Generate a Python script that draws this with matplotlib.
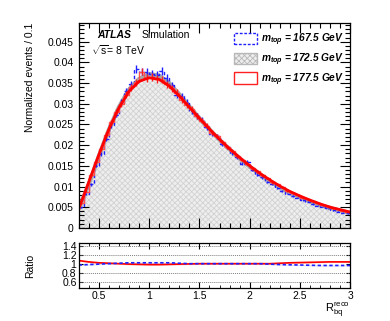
import numpy as np
import matplotlib
matplotlib.use("Agg")
import matplotlib.pyplot as plt
from matplotlib.patches import Patch
from matplotlib.ticker import MultipleLocator, FixedLocator

plt.rcParams['font.family'] = ['Liberation Sans', 'DejaVu Sans']
plt.rcParams['mathtext.fontset'] = 'custom'
plt.rcParams['mathtext.rm'] = 'Liberation Sans'
plt.rcParams['mathtext.it'] = 'Liberation Sans:italic:bold'
plt.rcParams['mathtext.bf'] = 'Liberation Sans:bold'
plt.rcParams['hatch.linewidth'] = 0.6

# ---------------- data ----------------
bin_edges = np.round(np.arange(0.30, 3.0001, 0.05), 3)

h172 = [0.0058, 0.0090, 0.0122, 0.0156, 0.0190, 0.0222, 0.0252, 0.0280, 0.0304, 0.0325,
        0.0342, 0.0355, 0.0364, 0.0369, 0.0370, 0.0368, 0.0362, 0.0353, 0.0342, 0.0329,
        0.0315, 0.0300, 0.0286, 0.0272, 0.0258, 0.0245, 0.0232, 0.0219, 0.0207, 0.0195,
        0.0184, 0.0173, 0.0162, 0.0152, 0.0143, 0.0134, 0.0125, 0.0117, 0.0109, 0.0102,
        0.0095, 0.0088, 0.0082, 0.0076, 0.0071, 0.0066, 0.0061, 0.0057, 0.0053, 0.0049,
        0.0046, 0.0043, 0.0040, 0.0037]

h167 = [0.0050, 0.0082, 0.0105, 0.0150, 0.0178, 0.0215, 0.0248, 0.0274, 0.0303, 0.0330,
        0.0347, 0.0383, 0.0378, 0.0376, 0.0373, 0.0370, 0.0380, 0.0362, 0.0345, 0.0322,
        0.0318, 0.0303, 0.0283, 0.0270, 0.0262, 0.0243, 0.0228, 0.0221, 0.0203, 0.0196,
        0.0180, 0.0172, 0.0155, 0.0160, 0.0140, 0.0129, 0.0122, 0.0111, 0.0106, 0.0096,
        0.0089, 0.0083, 0.0077, 0.0073, 0.0067, 0.0063, 0.0058, 0.0054, 0.0051, 0.0047,
        0.0043, 0.0039, 0.0037, 0.0035]

h177 = [0.0060, 0.0088, 0.0128, 0.0160, 0.0190, 0.0225, 0.0255, 0.0280, 0.0300, 0.0322,
        0.0340, 0.0352, 0.0378, 0.0362, 0.0365, 0.0360, 0.0358, 0.0347, 0.0338, 0.0327,
        0.0310, 0.0298, 0.0287, 0.0270, 0.0259, 0.0247, 0.0230, 0.0222, 0.0208, 0.0196,
        0.0187, 0.0173, 0.0165, 0.0155, 0.0144, 0.0137, 0.0127, 0.0121, 0.0110, 0.0106,
        0.0098, 0.0090, 0.0085, 0.0080, 0.0073, 0.0069, 0.0064, 0.0059, 0.0056, 0.0052,
        0.0048, 0.0045, 0.0042, 0.0039]

fit_x = [0.3, 0.4, 0.5, 0.6, 0.7, 0.8, 0.9, 1.0, 1.1, 1.2, 1.3, 1.4, 1.5, 1.6, 1.7, 1.8,
         1.9, 2.0, 2.1, 2.2, 2.3, 2.4, 2.5, 2.6, 2.7, 2.8, 2.9, 3.0]
fit172 = [0.0045, 0.0105, 0.0173, 0.0237, 0.0292, 0.0334, 0.0360, 0.0372, 0.0368, 0.0350,
          0.0323, 0.0294, 0.0265, 0.0238, 0.0213, 0.0190, 0.0168, 0.0148, 0.0130, 0.0113,
          0.0098, 0.0085, 0.0074, 0.0064, 0.0055, 0.0048, 0.0042, 0.0036]
fit177 = [0.0045, 0.0110, 0.0176, 0.0238, 0.0290, 0.0330, 0.0354, 0.0363, 0.0359, 0.0343,
          0.0319, 0.0292, 0.0265, 0.0239, 0.0214, 0.0191, 0.0170, 0.0150, 0.0132, 0.0116,
          0.0101, 0.0088, 0.0077, 0.0067, 0.0058, 0.0050, 0.0044, 0.0038]

ratio177 = [1.07, 1.04, 1.02, 1.01, 1.00, 0.99, 0.985, 0.98, 0.98, 0.985, 0.99, 0.995, 1.0, 1.0,
            1.0, 1.0, 1.0, 1.0, 1.0, 1.0, 1.01, 1.02, 1.025, 1.03, 1.035, 1.04, 1.04, 1.04]
ratio167 = [0.97, 0.98, 0.99, 1.0, 1.01, 1.02, 1.02, 1.02, 1.02, 1.02, 1.01, 1.0, 1.0, 1.0,
            1.0, 1.0, 1.0, 1.0, 1.0, 0.99, 0.98, 0.975, 0.97, 0.965, 0.96, 0.96, 0.96, 0.96]

rel_err = 0.025

labels = [r'$m_{top}$ = 167.5 GeV', r'$m_{top}$ = 172.5 GeV', r'$m_{top}$ = 177.5 GeV']

# ---------------- figure ----------------
fig = plt.figure(figsize=(3.90, 3.21), dpi=100)
ax = fig.add_axes([0.2015, 0.290, 0.697, 0.638])
rx = fig.add_axes([0.2015, 0.103, 0.697, 0.140])

centers = 0.5 * (bin_edges[:-1] + bin_edges[1:])

def step_xy(vals):
    xs = np.repeat(bin_edges, 2)[1:-1]
    ys = np.repeat(vals, 2)
    return xs, ys

# gray filled histogram (checker-like)
xs, ys = step_xy(h172)
ax.fill_between(xs, 0, ys, facecolor='#eeeeee', edgecolor='#d2d2d2', hatch='xxxxxx', linewidth=0)
ax.plot(fit_x, fit172, color='#a8a8a8', lw=3.0, solid_capstyle='butt')

# blue dashed histogram
xs, ys = step_xy(h167)
ax.plot(xs, ys, color='#1f1fff', lw=1.0, ls=(0, (2.5, 1.5)))
ax.errorbar(centers, h167, yerr=np.array(h167) * rel_err, fmt='none', ecolor='#1f1fff', lw=1.0)

# red histogram
xs, ys = step_xy(h177)
ax.plot(xs, ys, color='#ff5050', lw=1.0)
ax.errorbar(centers, h177, yerr=np.array(h177) * rel_err, fmt='none', ecolor='#ff2020', lw=1.0)
ax.plot(fit_x, fit177, color='#ff0000', lw=2.0)

ax.set_xlim(0.3, 3.0)
ax.set_ylim(0, 0.0495)
ax.set_ylabel('Normalized events / 0.1', fontsize=7.5, loc='top')
ax.yaxis.set_major_locator(MultipleLocator(0.005))
ax.yaxis.set_minor_locator(MultipleLocator(0.001))
ax.xaxis.set_major_locator(MultipleLocator(0.5))
ax.xaxis.set_minor_locator(MultipleLocator(0.1))
ax.yaxis.set_major_formatter(plt.FuncFormatter(lambda v, p: ('%g' % round(v, 4))))
ax.tick_params(which='both', direction='in', top=True, right=True, labelsize=7.5)
ax.tick_params(which='major', length=7, width=0.8)
ax.tick_params(which='minor', length=3.5, width=0.8)
ax.tick_params(axis='x', labelbottom=False)
for s in ax.spines.values():
    s.set_linewidth(0.9)

ax.text(0.07, 0.94, 'ATLAS', transform=ax.transAxes, fontsize=7.5, fontweight='bold',
        fontstyle='italic', va='center')
ax.text(0.23, 0.94, 'Simulation', transform=ax.transAxes, fontsize=7.5, va='center')
ax.text(0.045, 0.87, r'$\sqrt{\mathrm{s}}$= 8 TeV', transform=ax.transAxes, fontsize=7.5, va='center')

handles = [Patch(facecolor='white', edgecolor='#1f1fff', linestyle=(0, (2, 1.2)), lw=1.0),
           Patch(facecolor='#eeeeee', edgecolor='#b8b8b8', hatch='xxxxxx', lw=1.0),
           Patch(facecolor='white', edgecolor='#ff2020', lw=1.0)]
leg = ax.legend(handles, labels, loc='upper right', bbox_to_anchor=(1.005, 1.0),
                frameon=False, fontsize=7.3, handlelength=2.2, handleheight=1.4,
                handletextpad=0.4, labelspacing=0.35, borderaxespad=0.4)
for t in leg.get_texts():
    t.set_fontweight('bold')
    t.set_fontstyle('italic')

# ratio panel
for yv in [0.6, 0.8, 1.2, 1.4]:
    rx.axhline(yv, color='#808080', lw=0.7, ls=(0, (1, 1)))
rx.fill_between(fit_x, np.array(ratio177) - 0.015, np.array(ratio177) + 0.015,
                color='#ffb0b0', lw=0, alpha=0.8)
rx.fill_between(fit_x, np.array(ratio167) - 0.012, np.array(ratio167) + 0.012,
                color='#c0c0f0', lw=0, alpha=0.6)
rx.plot(fit_x, ratio177, color='#ff0000', lw=1.2)
rx.plot(fit_x, ratio167, color='#1f1fff', lw=1.2, ls=(0, (2, 1.5)))
rx.set_xlim(0.3, 3.0)
rx.set_ylim(0.46, 1.46)
rx.yaxis.set_major_locator(FixedLocator([0.6, 0.8, 1.0, 1.2, 1.4]))
rx.yaxis.set_major_formatter(plt.FuncFormatter(lambda v, p: '%g' % round(v, 2)))
rx.xaxis.set_major_locator(MultipleLocator(0.5))
rx.xaxis.set_minor_locator(MultipleLocator(0.1))
rx.xaxis.set_major_formatter(plt.FuncFormatter(lambda v, p: '%g' % round(v, 2)))
rx.tick_params(which='both', direction='in', top=True, right=True, labelsize=7.5, pad=2)
rx.tick_params(axis='y', which='major', length=3, pad=1.5)
rx.tick_params(axis='x', which='major', length=4)
rx.tick_params(axis='x', which='minor', length=2)
rx.set_ylabel('Ratio', fontsize=7.5)
rx.yaxis.set_label_coords(-0.16, 0.5)
ax.yaxis.set_label_coords(-0.16, 1.0)
for s in rx.spines.values():
    s.set_linewidth(0.9)
rx.set_xlabel(r'R$_{\mathrm{bq}}^{\mathrm{reco}}$', fontsize=8, loc='right', labelpad=0)

fig.savefig('out.png', dpi=100)
